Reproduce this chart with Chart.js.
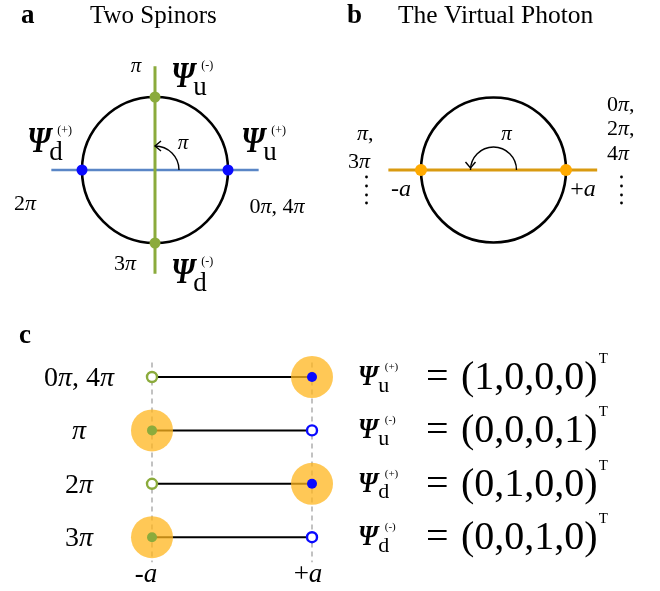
<!DOCTYPE html>
<html>
<head>
<meta charset="utf-8">
<script src="https://cdn.jsdelivr.net/npm/chart.js@4.4.1/dist/chart.umd.min.js"></script>
<style>
  html, body { margin: 0; padding: 0; background: #fff; }
  canvas { display: block; }
</style>
</head>
<body>
<canvas id="fig" width="660" height="591"></canvas>
<script>
// ---- data ----
// panel a: phase of each spinor (units of pi); angle on the circle = phase * 90deg
const spinorPhases = [0, 1, 2, 3];
const spinorSubs = ["u", "u", "d", "d"];
const spinorSigns = ["+", "-", "+", "-"];
const phaseLabels = ["0π, 4π", "π", "2π", "3π"];
// panel b: the two photon sites
const photonSites = [-1, 1];
const siteLabels = ["-a", "+a"];
// panel c: occupied site for each phase row, and the state vectors
const occupiedSite = [1, -1, 1, -1];
const stateVectors = [[1, 0, 0, 0], [0, 0, 0, 1], [0, 1, 0, 0], [0, 0, 1, 0]];

const W = 660, H = 591;
const SERIF = '"Liberation Serif", "Times New Roman", serif';
const GREEN = "#8bab3c", BLUE = "#0a0aff", STEEL = "#5a86c6";
const AMBER = "#d99a10", ORANGE = "#ffaa00", HALO = "rgba(255,182,30,0.75)";

/* ---- scale helpers: place a panel's origin at a pixel, with px per unit ---- */
function xSpan(c, u) { return { min: -c / u, max: (W - c) / u }; }
function ySpanUp(c, u) { return { min: (c - H) / u, max: c / u }; }
function ySpanDown(c, u) { return { min: -c / u, max: (H - c) / u }; }

function axis(dir, span, extra) {
  return Object.assign({ type: "linear", axis: dir, display: false, bounds: "data",
    min: span.min, max: span.max }, extra || {});
}

const scales = {
  xA: axis("x", xSpan(155, 73)),
  yA: axis("y", ySpanUp(170, 73)),
  xB: axis("x", xSpan(493.5, 72.5)),
  yB: axis("y", ySpanUp(170, 72.5)),
  xC: axis("x", xSpan(232, 80)),
  yC: axis("y", ySpanDown(377, 53.4), { reverse: true })
};

function unitPx(chart, id) {
  const s = chart.scales[id];
  return Math.abs(s.getPixelForValue(1) - s.getPixelForValue(0));
}

/* ---- datasets, bottom layer first ---- */
const layers = [];
function add(panel, ds) {
  layers.push(Object.assign({
    xAxisID: "x" + panel, yAxisID: "y" + panel,
    showLine: false, pointRadius: 0, borderWidth: 0, pointHoverRadius: 0, clip: false
  }, ds));
}

// panel a
add("A", { data: [{ x: 0, y: 0 }], pointRadius: c => unitPx(c.chart, "xA"),
  pointBackgroundColor: "rgba(0,0,0,0)", pointBorderColor: "#000", pointBorderWidth: 2.6 });
add("A", { data: [{ x: -1.42, y: 0 }, { x: 1.42, y: 0 }], showLine: true, borderColor: STEEL, borderWidth: 2.6 });
add("A", { data: [{ x: 0, y: 1.42 }, { x: 0, y: -1.42 }], showLine: true, borderColor: GREEN, borderWidth: 3 });
add("A", {
  data: spinorPhases.map(p => ({ x: Math.round(Math.cos(p * Math.PI / 2)), y: Math.round(Math.sin(p * Math.PI / 2)) })),
  pointRadius: 5.5, pointBorderWidth: 0,
  pointBackgroundColor: spinorPhases.map(p => (p % 2 === 0 ? BLUE : GREEN))
});

// panel b
add("B", { data: [{ x: 0, y: 0 }], pointRadius: c => unitPx(c.chart, "xB"),
  pointBackgroundColor: "rgba(0,0,0,0)", pointBorderColor: "#000", pointBorderWidth: 2.6 });
add("B", { data: [{ x: -1.45, y: 0 }, { x: 1.43, y: 0 }], showLine: true, borderColor: AMBER, borderWidth: 3 });
add("B", { data: photonSites.map(s => ({ x: s, y: 0 })), pointRadius: 6, pointBorderWidth: 0, pointBackgroundColor: ORANGE });

// panel c
photonSites.forEach(s => {
  add("C", { data: [{ x: s, y: -0.27 }, { x: s, y: 3.47 }], showLine: true,
    borderColor: "#9a9a9a", borderWidth: 1.2, borderDash: [5, 4] });
});
occupiedSite.forEach((s, i) => {
  add("C", { data: [{ x: -1, y: i }, { x: 1, y: i }], showLine: true, borderColor: "#000", borderWidth: 2 });
});
add("C", { data: occupiedSite.map((s, i) => ({ x: s, y: i })), pointRadius: 21, pointBorderWidth: 0, pointBackgroundColor: HALO });
add("C", { data: occupiedSite.map((s, i) => ({ x: s, y: i })), pointRadius: 5, pointBorderWidth: 0,
  pointBackgroundColor: occupiedSite.map(s => (s > 0 ? BLUE : GREEN)) });
add("C", { data: occupiedSite.map((s, i) => ({ x: -s, y: i })), pointRadius: 5, pointBorderWidth: 2.4,
  pointBackgroundColor: "#fff", pointBorderColor: occupiedSite.map(s => (s > 0 ? GREEN : BLUE)) });

layers.forEach((ds, i) => { ds.order = layers.length - i; });

/* ---- text helpers ---- */
// draw a string with pi and the letter a in italic, the rest upright
function mathText(ctx, str, x, y, size, align) {
  const runs = str.split("").map(ch => ({ t: ch, it: ch === "π" || ch === "a" }));
  const fontOf = r => (r.it ? "italic " : "") + size + "px " + SERIF;
  let total = 0;
  runs.forEach(r => { ctx.font = fontOf(r); r.w = ctx.measureText(r.t).width; total += r.w; });
  let cx = align === "center" ? x - total / 2 : align === "right" ? x - total : x;
  ctx.textAlign = "left";
  runs.forEach(r => { ctx.font = fontOf(r); ctx.fillText(r.t, cx, y); cx += r.w; });
  return total;
}

// psi with subscript and (+)/(-) superscript; the glyph is narrowed a bit to look like Times
function psi(ctx, x, base, sub, sign, size, subSize, supSize, gap) {
  ctx.textAlign = "left";
  ctx.font = "bold italic " + size + "px " + SERIF;
  const w = ctx.measureText("Ψ").width * 0.84;
  ctx.save();
  ctx.translate(x, base);
  ctx.scale(0.84, 1);
  ctx.fillText("Ψ", 0, 0);
  ctx.restore();
  ctx.font = subSize + "px " + SERIF;
  ctx.fillText(sub, x + w + gap, base + size * 0.22);
  const sw = ctx.measureText(sub).width;
  ctx.font = supSize + "px " + SERIF;
  ctx.fillText("(" + sign + ")", x + w + gap + sw * 0.6, base - size * 0.5);
}

function vdots(ctx, x, y0) {
  [0, 9, 18, 26].forEach(d => { ctx.beginPath(); ctx.arc(x, y0 + d, 1.4, 0, Math.PI * 2); ctx.fill(); });
}

const annotate = {
  id: "annotate",
  afterDatasetsDraw(chart) {
    const ctx = chart.ctx, sc = chart.scales;
    ctx.save();
    ctx.fillStyle = "#000";
    ctx.strokeStyle = "#000";
    ctx.textBaseline = "alphabetic";

    // titles
    ctx.textAlign = "left";
    ctx.font = "bold 27px " + SERIF; ctx.fillText("a", 21, 23);
    ctx.font = "25px " + SERIF; ctx.fillText("Two Spinors", 90, 23);
    ctx.font = "bold 27px " + SERIF; ctx.fillText("b", 347, 23);
    ctx.font = "25.5px " + SERIF; ctx.fillText("The Virtual Photon", 398, 23);
    ctx.font = "bold 27px " + SERIF; ctx.fillText("c", 19, 343);

    // panel a
    const ax = sc.xA.getPixelForValue(0), ay = sc.yA.getPixelForValue(0);
    ctx.lineWidth = 1.4;
    ctx.beginPath(); ctx.arc(ax, ay, 24, 0, -Math.PI / 2, true); ctx.stroke();
    ctx.beginPath();
    ctx.moveTo(ax + 6, ay - 29); ctx.lineTo(ax, ay - 24); ctx.lineTo(ax + 6, ay - 19);
    ctx.stroke();
    mathText(ctx, "π", ax + 28, ay - 21, 21, "center");

    mathText(ctx, "π", 136, 72, 21, "center");
    mathText(ctx, "2π", 25, 210, 22, "center");
    mathText(ctx, "0π, 4π", 277, 213, 22, "center");
    mathText(ctx, "3π", 125, 270, 22, "center");
    const sIdx = { 0: [241, 152], 1: [171, 87], 2: [27, 152], 3: [171, 283] };
    spinorPhases.forEach((p, i) => {
      psi(ctx, sIdx[p][0], sIdx[p][1], spinorSubs[i], spinorSigns[i], 36, 27, 12, -2);
    });

    // panel b
    const bx = sc.xB.getPixelForValue(0), by = sc.yB.getPixelForValue(0);
    ctx.lineWidth = 1.4;
    ctx.beginPath(); ctx.arc(bx, by, 23, 0, -Math.PI, true); ctx.stroke();
    ctx.beginPath();
    ctx.moveTo(bx - 28, by - 8); ctx.lineTo(bx - 23, by - 2); ctx.lineTo(bx - 18, by - 8);
    ctx.stroke();
    mathText(ctx, "π", bx + 13, by - 30, 21, "center");
    mathText(ctx, "π,", 357, 140, 22, "left");
    mathText(ctx, "3π", 348, 168, 22, "left");
    mathText(ctx, "0π,", 607, 111, 22, "left");
    mathText(ctx, "2π,", 607, 135, 22, "left");
    mathText(ctx, "4π", 607, 160, 22, "left");
    vdots(ctx, 366.5, 177);
    vdots(ctx, 621.5, 177);
    photonSites.forEach((s, i) => {
      const px = sc.xB.getPixelForValue(s);
      mathText(ctx, siteLabels[i], px + (s < 0 ? -20 : 17), by + 26, 24, "center");
    });

    // panel c
    occupiedSite.forEach((s, i) => {
      const ry = sc.yC.getPixelForValue(i);
      mathText(ctx, phaseLabels[i], 79, ry + 9, 28, "center");
      psi(ctx, 358, ry + 8, spinorSubs[i], spinorSigns[i], 30, 22, 11, 0);
      ctx.textAlign = "left";
      ctx.font = "40px " + SERIF;
      ctx.fillText("=", 426, ry + 12);
      const vec = "(" + stateVectors[i].join(",") + ")";
      ctx.fillText(vec, 461, ry + 12);
      const vw = ctx.measureText(vec).width;
      ctx.font = "15px " + SERIF;
      ctx.fillText("T", 461 + vw + 1, ry - 14);
    });
    photonSites.forEach((s, i) => {
      mathText(ctx, siteLabels[i], sc.xC.getPixelForValue(s) + (s < 0 ? -6 : -4), 582, 27, "center");
    });
    ctx.restore();
  }
};

new Chart(document.getElementById("fig"), {
  type: "scatter",
  data: { datasets: layers },
  options: {
    responsive: false,
    animation: false,
    events: [],
    layout: { padding: 0, autoPadding: false },
    plugins: { legend: { display: false }, tooltip: { enabled: false } },
    scales: scales
  },
  plugins: [annotate]
});
</script>
</body>
</html>
